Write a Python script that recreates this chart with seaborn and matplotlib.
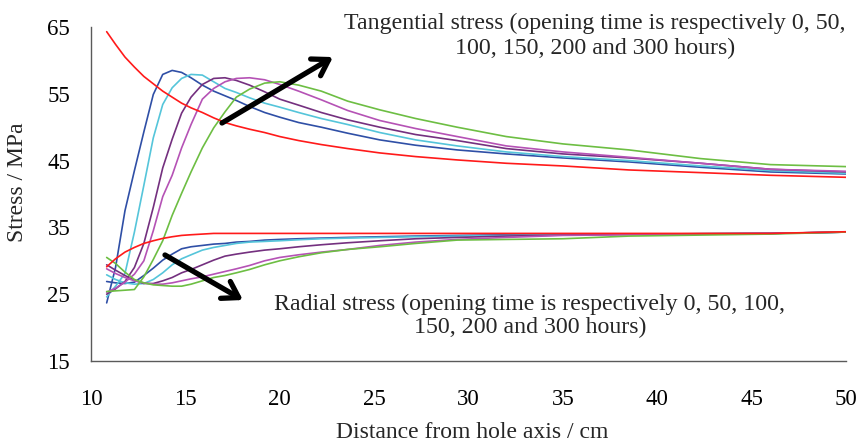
import numpy as np
import pandas as pd
import matplotlib
matplotlib.use("Agg")
import matplotlib.pyplot as plt
import seaborn as sns

# ---------------- data ----------------
distance_cm = [10.83, 11.3, 11.8, 12.3, 12.8, 13.3, 13.8, 14.3, 14.8, 15.3, 15.9, 16.5,
               17.1, 17.7, 18.4, 19.2, 20.0, 21.0, 22.2, 23.6, 25.3, 27.2, 29.4, 32.0,
               35.0, 38.5, 42.3, 46.0, 50.0]
opening_hours = [0, 50, 100, 150, 200, 300]

tangential_0 = [64.3, 62.4, 60.5, 59.0, 57.6, 56.5, 55.4, 54.5, 53.6, 52.9, 52.2, 51.4,
                50.7, 50.2, 49.7, 49.2, 48.6, 48.0, 47.4, 46.8, 46.15, 45.6, 45.1, 44.6,
                44.2, 43.6, 43.2, 42.8, 42.5]
tangential_50 = [23.7, 29.0, 37.5, 43.5, 49.3, 54.9, 57.9, 58.5, 58.2, 57.4, 56.3, 55.4,
                 54.7, 54.0, 53.1, 52.2, 51.5, 50.7, 50.0, 49.1, 48.1, 47.3, 46.6, 46.0,
                 45.4, 44.8, 44.0, 43.3, 43.0]
tangential_100 = [24.6, 26.2, 28.1, 34.3, 41.3, 48.4, 53.4, 55.9, 57.3, 57.9, 57.8, 56.8,
                  55.8, 55.2, 54.4, 53.6, 53.0, 52.2, 51.3, 50.4, 49.2, 48.1, 47.2, 46.3,
                  45.6, 45.0, 44.2, 43.5, 43.1]
tangential_150 = [25.0, 25.8, 26.9, 29.0, 32.6, 38.0, 43.9, 48.2, 52.1, 54.5, 56.4, 57.3,
                  57.4, 57.0, 56.3, 55.3, 54.2, 53.3, 52.2, 51.1, 50.0, 48.9, 48.0, 46.8,
                  46.0, 45.4, 44.6, 43.7, 43.3]
tangential_200 = [25.3, 25.9, 26.8, 28.0, 30.0, 34.5, 39.6, 42.8, 46.9, 50.4, 54.2, 55.8,
                  56.8, 57.3, 57.4, 57.1, 56.4, 55.4, 54.1, 52.5, 51.0, 49.8, 48.6, 47.2,
                  46.3, 45.5, 44.6, 43.7, 43.4]
tangential_300 = [25.4, 25.5, 25.6, 25.7, 27.6, 30.2, 33.0, 36.8, 40.1, 43.3, 46.9, 49.9,
                  52.3, 54.5, 55.7, 56.6, 56.8, 56.3, 55.4, 53.9, 52.6, 51.3, 50.0, 48.6,
                  47.5, 46.6, 45.3, 44.4, 44.1]

radial_0 = [29.1, 30.3, 31.3, 32.0, 32.6, 33.0, 33.35, 33.6, 33.8, 33.9, 34.0, 34.1,
            34.1, 34.1, 34.1, 34.1, 34.1, 34.1, 34.1, 34.1, 34.1, 34.1, 34.1, 34.1,
            34.1, 34.1, 34.1, 34.1, 34.35]
radial_50 = [26.9, 26.7, 26.6, 26.8, 27.8, 28.9, 30.1, 31.0, 31.8, 32.1, 32.3, 32.5,
             32.6, 32.8, 32.9, 33.1, 33.2, 33.3, 33.4, 33.5, 33.6, 33.7, 33.8, 33.9,
             34.0, 34.0, 34.05, 34.1, 34.3]
radial_100 = [27.9, 27.2, 26.7, 26.5, 26.6, 27.2, 28.2, 29.4, 30.3, 30.9, 31.6, 32.0,
              32.3, 32.6, 32.8, 32.9, 33.0, 33.15, 33.3, 33.4, 33.5, 33.6, 33.7, 33.8,
              33.9, 34.0, 34.05, 34.1, 34.3]
radial_150 = [29.4, 28.6, 27.8, 27.1, 26.6, 26.6, 27.0, 27.5, 28.2, 28.7, 29.4, 30.1,
              30.7, 31.0, 31.3, 31.6, 31.8, 32.1, 32.4, 32.7, 33.0, 33.3, 33.5, 33.7,
              33.85, 33.95, 34.05, 34.1, 34.3]
radial_200 = [28.8, 28.1, 27.5, 27.0, 26.7, 26.5, 26.5, 26.7, 27.0, 27.3, 27.6, 28.0,
              28.4, 28.8, 29.3, 30.0, 30.5, 30.9, 31.3, 31.7, 32.3, 32.8, 33.2, 33.5,
              33.8, 33.9, 34.0, 34.1, 34.3]
radial_300 = [30.5, 29.6, 28.3, 27.2, 26.7, 26.4, 26.3, 26.2, 26.2, 26.5, 27.0, 27.5,
              27.8, 28.2, 28.7, 29.4, 30.0, 30.6, 31.2, 31.7, 32.1, 32.6, 33.1, 33.2,
              33.3, 33.7, 33.85, 34.0, 34.3]

tangential = [tangential_0, tangential_50, tangential_100, tangential_150, tangential_200, tangential_300]
radial = [radial_0, radial_50, radial_100, radial_150, radial_200, radial_300]

x_ticks = [10, 15, 20, 25, 30, 35, 40, 45, 50]
y_ticks = [15, 25, 35, 45, 55, 65]

colors = {0: "#FF1A1A", 50: "#2F4FA6", 100: "#55C5DA", 150: "#74307F",
          200: "#B552B5", 300: "#6DBE43"}

rows = []
for h, tv, rv in zip(opening_hours, tangential, radial):
    for x, t, r in zip(distance_cm, tv, rv):
        rows.append({"x": x, "stress": t, "hours": h, "kind": "tangential"})
        rows.append({"x": x, "stress": r, "hours": h, "kind": "radial"})
df = pd.DataFrame(rows)

# ---------------- plot ----------------
sns.set_theme(style="white")
plt.rcParams["font.family"] = ["Liberation Serif", "DejaVu Serif"]

W, H = 861, 444
fig = plt.figure(figsize=(W / 100, H / 100), dpi=100)
ax = fig.add_axes([91 / W, 1 - 361 / H, 755 / W, 334 / H])

sns.lineplot(data=df, x="x", y="stress", hue="hours", units="kind", estimator=None,
             sort=False, hue_order=[50, 100, 150, 200, 300, 0], palette=colors,
             linewidth=1.2, legend=False, ax=ax)

ax.set_xlim(10, 50)
ax.set_ylim(15, 65)
ax.set_xticks(x_ticks)
ax.set_yticks(y_ticks)
ax.set_xticklabels([str(v) for v in x_ticks])
ax.set_yticklabels([str(v) for v in y_ticks])

for s in ["top", "right"]:
    ax.spines[s].set_visible(False)
for s in ["left", "bottom"]:
    ax.spines[s].set_color("#5a5a5a")
    ax.spines[s].set_linewidth(1.0)
ax.tick_params(axis="both", direction="in", length=6, width=1.0, color="#5a5a5a",
               labelsize=16.5, labelcolor="black")
ax.tick_params(axis="y", pad=15)
ax.tick_params(axis="x", pad=20)
ax.set_xlabel("")
ax.set_ylabel("")

fig.text(472 / W, 1 - 432 / H, "Distance from hole axis / cm", ha="center", va="center",
         fontsize=17)
fig.text(18 / W, 1 - 182 / H, "Stress / MPa", ha="center", va="center", rotation=90,
         fontsize=17)

fig.text(595 / W, 1 - 36 / H,
         "Tangential stress (opening time is respectively 0, 50,\n100, 150, 200 and 300 hours)",
         ha="center", va="center", multialignment="center", fontsize=17.2, linespacing=1.25)
fig.text(530 / W, 1 - 316 / H,
         "Radial stress (opening time is respectively 0, 50, 100,\n150, 200 and 300 hours)",
         ha="center", va="center", multialignment="center", fontsize=17.2, linespacing=1.1)

arrow_kw = dict(arrowstyle="->,head_length=0.55,head_width=0.35", lw=3.8, color="black",
                shrinkA=0, shrinkB=0, mutation_scale=20)
ax.annotate("", xy=(22.82, 60.5), xytext=(16.94, 50.63), arrowprops=arrow_kw,
            annotation_clip=False)
ax.annotate("", xy=(18.05, 24.13), xytext=(13.92, 30.87), arrowprops=arrow_kw,
            annotation_clip=False)

fig.savefig("out.png", dpi=100)
